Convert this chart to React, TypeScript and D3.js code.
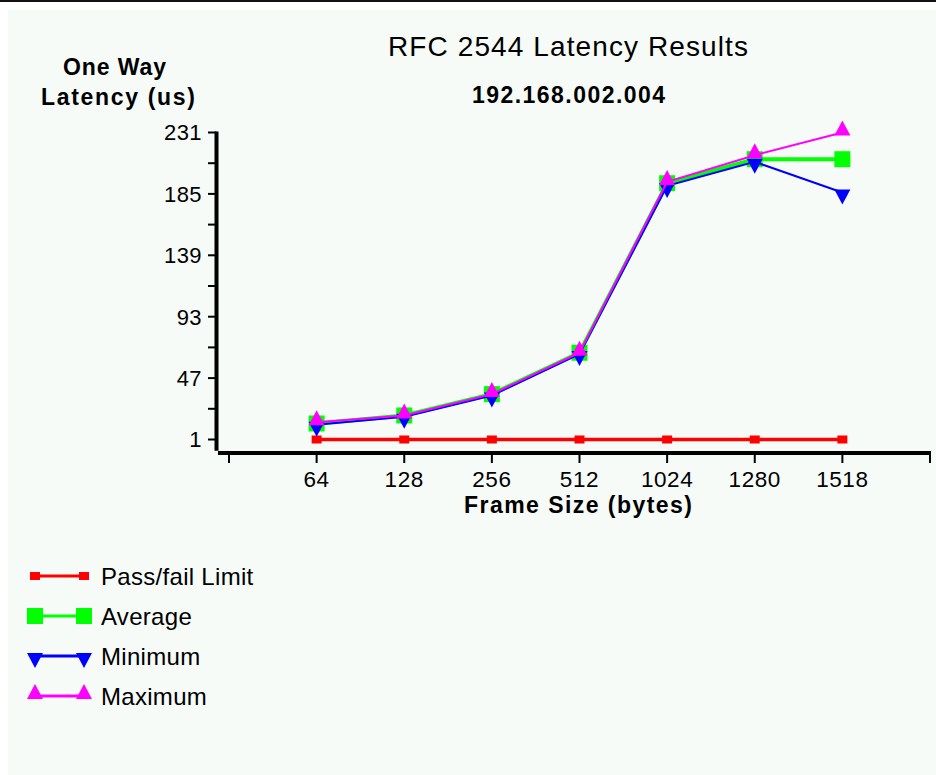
import React from 'react';
import * as d3 from 'd3';

// values
const frameSizes = ['64', '128', '256', '512', '1024', '1280', '1518'];
const passFail = [1, 1, 1, 1, 1, 1, 1];
const average = [13, 19, 35, 66, 193, 211, 211];
const minimum = [12, 18, 34, 65, 191, 209, 186];
const maximum = [14, 19, 35, 66, 194, 214, 231];
const yTicks = [1, 47, 93, 139, 185, 231];

const FONT = '"Liberation Sans", Arial, Helvetica, sans-serif';
const W = 936;
const H = 775;

type Marker = 'smallSquare' | 'square' | 'down' | 'up';
const series: { name: string; values: number[]; color: string; width: number; marker: Marker }[] = [
  { name: 'Pass/fail Limit', values: passFail, color: '#ff0000', width: 3.5, marker: 'smallSquare' },
  { name: 'Average', values: average, color: '#00ff00', width: 4, marker: 'square' },
  { name: 'Minimum', values: minimum, color: '#0000ff', width: 2, marker: 'down' },
  { name: 'Maximum', values: maximum, color: '#ff00ff', width: 2, marker: 'up' },
];

// marker shapes around (x, y)
const markerPath = (m: Marker, x: number, y: number) => {
  if (m === 'smallSquare') return `M${x - 5},${y - 4}h10v8h-10z`;
  if (m === 'square') return `M${x - 8},${y - 8}h16v16h-16z`;
  if (m === 'down') return `M${x - 8},${y - 3}L${x + 8},${y - 3}L${x},${y + 12}z`;
  return `M${x - 8},${y + 3}L${x + 8},${y + 3}L${x},${y - 12}z`;
};

const App = () => {
  const x = d3.scalePoint<string>().domain(frameSizes).range([229, 930]).padding(1);
  const y = d3.scaleLinear().domain([1, 231]).range([439.5, 132.5]);

  const xLeft = x.range()[0];
  const xRight = x.range()[1];
  const axisX = 216.5;
  const axisY = 453;
  const yBottom = y(-7.5);

  const minorTicks = yTicks.slice(1).map((t, i) => (t + yTicks[i]) / 2);

  const line = d3
    .line<number>()
    .x((_, i) => x(frameSizes[i]) as number)
    .y((d) => y(d));

  const legendRows = [576, 616, 656, 696];

  return (
    <svg
      width={W}
      height={H}
      style={{ position: 'absolute', left: 0, top: 0, fontFamily: FONT }}
    >
      <rect x={0} y={0} width={W} height={H} fill="#ffffff" />
      <rect x={0} y={0} width={W} height={2} fill="#111111" />
      <rect x={8} y={10} width={W - 8} height={H - 10} fill="#f6fbf8" />

      {/* titles */}
      <text x={568} y={56} textAnchor="middle" fontSize={28} textLength={360} lengthAdjust="spacing">
        RFC 2544 Latency Results
      </text>
      <text x={568.5} y={103} textAnchor="middle" fontSize={23} fontWeight="bold" textLength={193} lengthAdjust="spacing">
        192.168.002.004
      </text>
      <text x={114.5} y={75} textAnchor="middle" fontSize={23} fontWeight="bold" textLength={103} lengthAdjust="spacing">
        One Way
      </text>
      <text x={118} y={105} textAnchor="middle" fontSize={23} fontWeight="bold" textLength={154} lengthAdjust="spacing">
        Latency (us)
      </text>

      {/* y axis */}
      <line x1={axisX} x2={axisX} y1={y(231) - 1} y2={yBottom} stroke="#000" strokeWidth={4} />
      {yTicks.concat(minorTicks).map((t) => (
        <line key={'yt' + t} x1={208} x2={axisX} y1={y(t)} y2={y(t)} stroke="#000" strokeWidth={2} />
      ))}
      {yTicks.map((t) => (
        <text key={'yl' + t} x={202} y={y(t)} dy="0.36em" textAnchor="end" fontSize={22} letterSpacing={0.4}>
          {t}
        </text>
      ))}

      {/* x axis */}
      <line x1={218} x2={xRight + 1} y1={axisY} y2={axisY} stroke="#000" strokeWidth={4} />
      {[xLeft, ...frameSizes.map((c) => x(c) as number), xRight].map((px, i) => (
        <line key={'xt' + i} x1={px} x2={px} y1={axisY} y2={axisY + 10} stroke="#000" strokeWidth={2} />
      ))}
      {frameSizes.map((c) => (
        <text key={'xl' + c} x={x(c)} y={487} textAnchor="middle" fontSize={22.5} letterSpacing={0.6}>
          {c}
        </text>
      ))}
      <text x={578} y={513} textAnchor="middle" fontSize={23} fontWeight="bold" textLength={228} lengthAdjust="spacing">
        Frame Size (bytes)
      </text>

      {/* series */}
      {series.map((s) => (
        <g key={s.name}>
          <path d={line(s.values) || ''} fill="none" stroke={s.color} strokeWidth={s.width} />
          {s.values.map((v, i) => (
            <path key={i} d={markerPath(s.marker, x(frameSizes[i]) as number, y(v))} fill={s.color} />
          ))}
        </g>
      ))}

      {/* legend */}
      {series.map((s, i) => {
        const ly = legendRows[i];
        return (
          <g key={'lg' + s.name}>
            <line x1={35} x2={84} y1={ly} y2={ly} stroke={s.color} strokeWidth={3} />
            <path d={markerPath(s.marker, 35, ly)} fill={s.color} />
            <path d={markerPath(s.marker, 84, ly)} fill={s.color} />
            <text x={101} y={ly + 9} fontSize={24} letterSpacing={0.3}>
              {s.name}
            </text>
          </g>
        );
      })}
    </svg>
  );
};

export default App;
